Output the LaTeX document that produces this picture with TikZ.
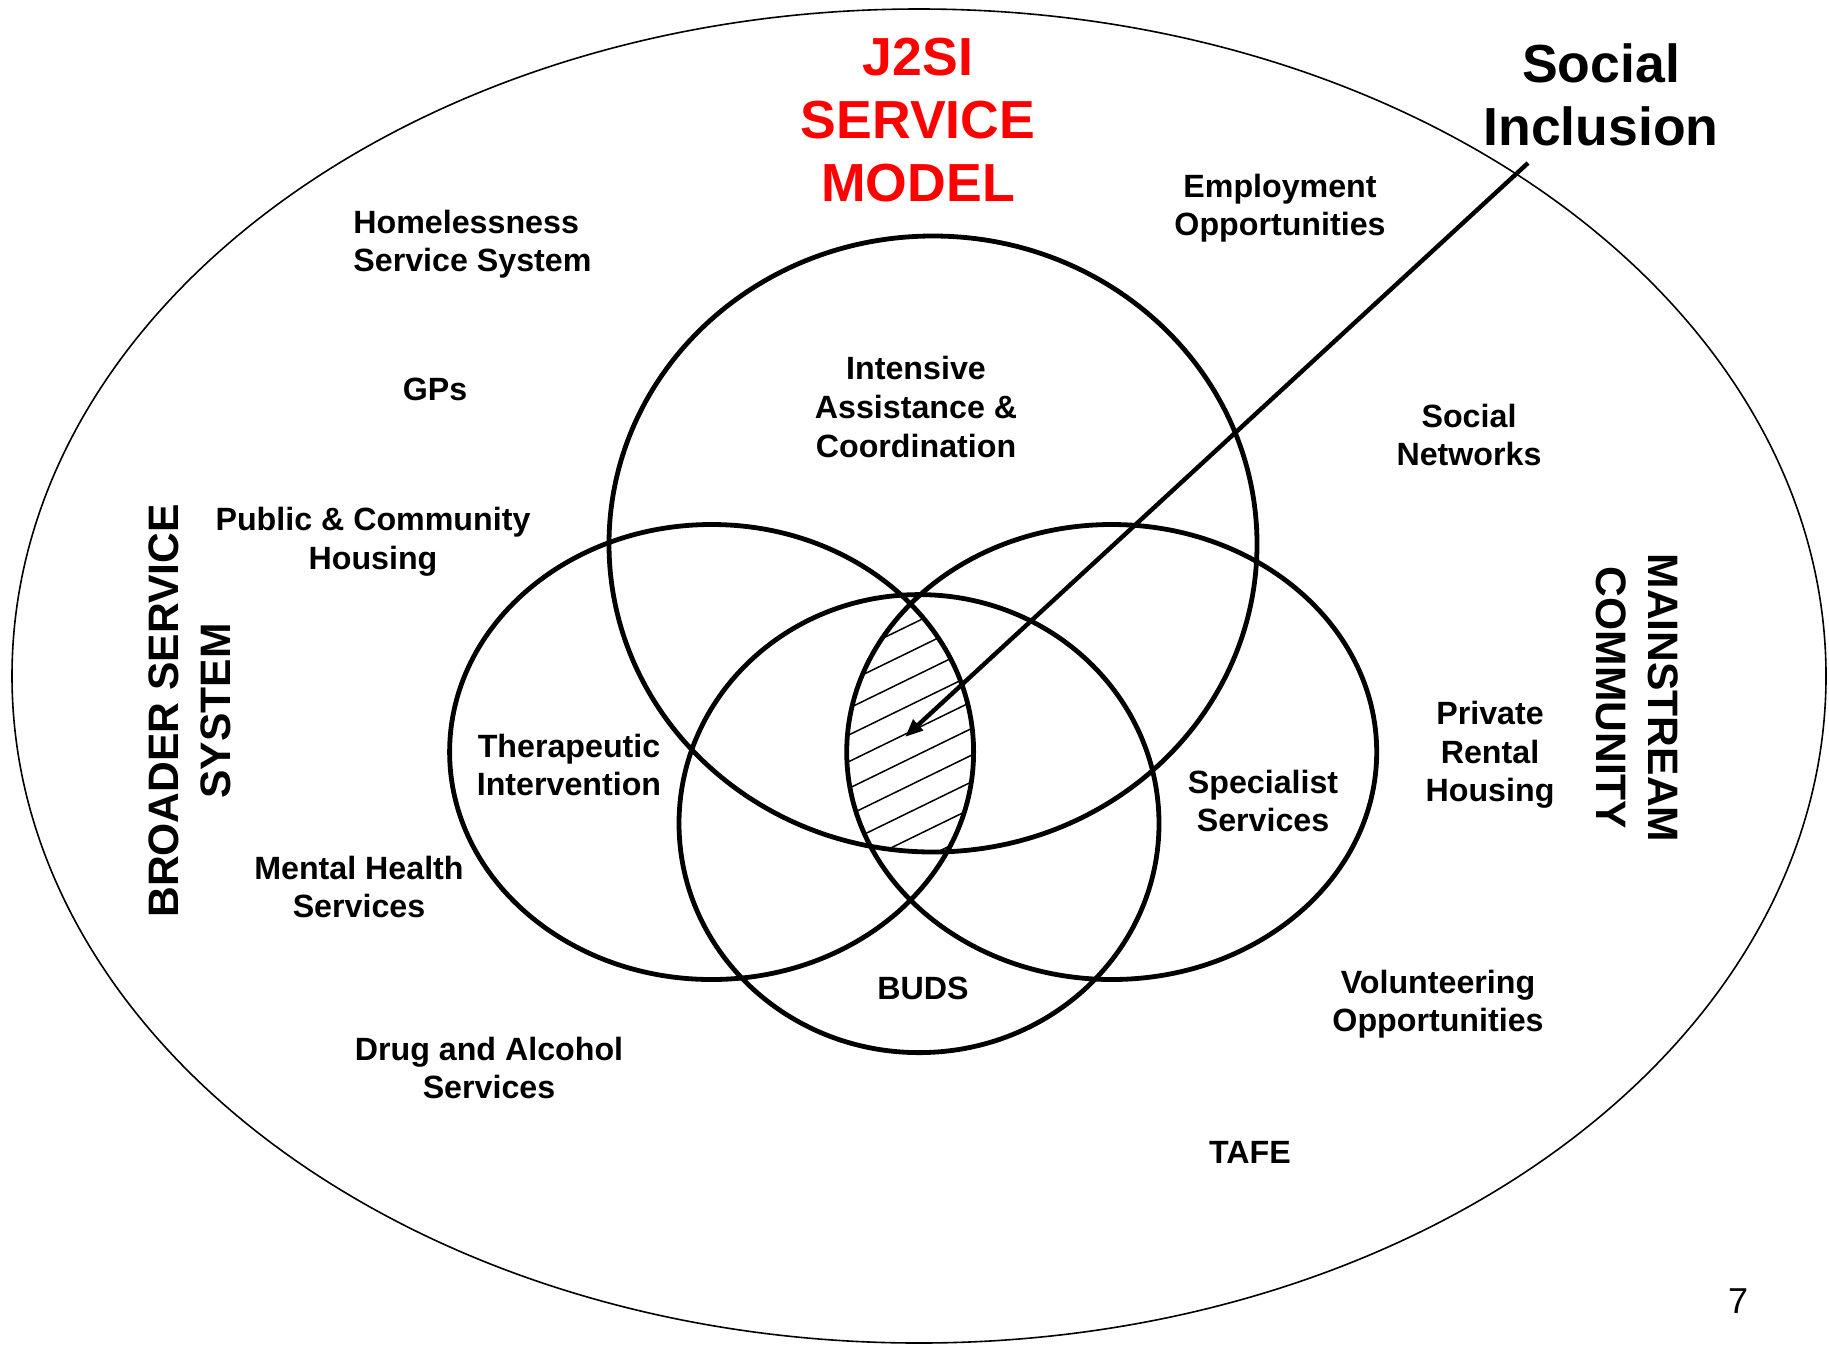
\documentclass[tikz,border=0pt]{standalone}
\usepackage{fontspec}
\setmainfont{Liberation Sans}
\usetikzlibrary{arrows.meta}
\definecolor{titlered}{RGB}{255,0,0}
\begin{document}
\begin{tikzpicture}[x=0.5pt,y=-0.5pt,
  lbl/.style={font=\fontsize{16.1}{19.3}\selectfont\bfseries, align=center, inner sep=0pt},
  big/.style={font=\fontsize{26.8}{31.5}\selectfont\bfseries, align=center, inner sep=0pt},
  side/.style={font=\fontsize{21.3}{26.2}\selectfont\bfseries, align=center, inner sep=0pt},
  ring/.style={line width=2.4pt},
  outer/.style={line width=0.8pt},
  hatchline/.style={line width=0.75pt},
  pointer/.style={line width=2.2pt, -{Triangle[length=9pt,width=7pt]}}]
\useasboundingbox (0,0) rectangle (1829,1344);

% outer ellipse
\draw[outer] (919,676) ellipse [x radius=453.5pt, y radius=333.5pt];

% hatched central region
\begin{scope}
  \clip (933,544) ellipse [x radius=162pt, y radius=154pt];
  \clip (711.6,752) ellipse [x radius=131pt, y radius=113.75pt];
  \clip (1111.7,752) ellipse [x radius=132.5pt, y radius=113.75pt];
  \clip (919,823.6) ellipse [x radius=120pt, y radius=114.5pt];
  \foreach \c in {469.7,496.4,...,1000} {
    \draw[hatchline] (780,\c+58.5) -- (1040,\c-68.3);
  }
\end{scope}

% four circles
\draw[ring] (933,544) ellipse [x radius=162pt, y radius=154pt];
\draw[ring] (711.6,752) ellipse [x radius=131pt, y radius=113.75pt];
\draw[ring] (1111.7,752) ellipse [x radius=132.5pt, y radius=113.75pt];
\draw[ring] (919,823.6) ellipse [x radius=120pt, y radius=114.5pt];

% pointer arrow
\coordinate (arrowstart) at (1528,163);
\coordinate (arrowend) at (905,737);
\draw[pointer] (arrowstart) -- (arrowend);

% titles
\node[big, text=titlered] (title) at (918,120) {J2SI\\SERVICE\\MODEL};
\node[big] (social) at (1601,95) {Social\\Inclusion};

% labels
\node[lbl] (employ) at (1280,208) {Employment\\Opportunities};
\node[lbl, align=left, anchor=west] (homeless) at (353,244) {Homelessness\\Service System};
\node[lbl] (gps) at (435,389) {GPs};
\node[lbl] (intensive) at (916,407) {Intensive\\Assistance \&\\Coordination};
\node[lbl] (networks) at (1469,435) {Social\\Networks};
\node[lbl] (public) at (373,542) {Public \& Community\\Housing};
\node[lbl] (thera) at (569,765) {Therapeutic\\Intervention};
\node[lbl] (special) at (1263,801) {Specialist\\Services};
\node[lbl] (private) at (1490,755) {Private\\Rental\\Housing};
\node[lbl] (mental) at (359,887) {Mental Health\\Services};
\node[lbl] (buds) at (923,988) {BUDS};
\node[lbl] (volunteer) at (1438,1004) {Volunteering\\Opportunities};
\node[lbl] (drug) at (489,1068) {Drug and Alcohol\\Services};
\node[lbl] (tafe) at (1250,1152) {TAFE};

% side titles
\node[side, rotate=90] (broader) at (190,711) {BROADER SERVICE\\SYSTEM};
\node[side, rotate=-90] (mainstream) at (1637,698) {MAINSTREAM\\COMMUNITY};

% page number
\node[font=\fontsize{18}{20}\selectfont, inner sep=0pt] (pagenum) at (1738,1301) {7};
\end{tikzpicture}
\end{document}
